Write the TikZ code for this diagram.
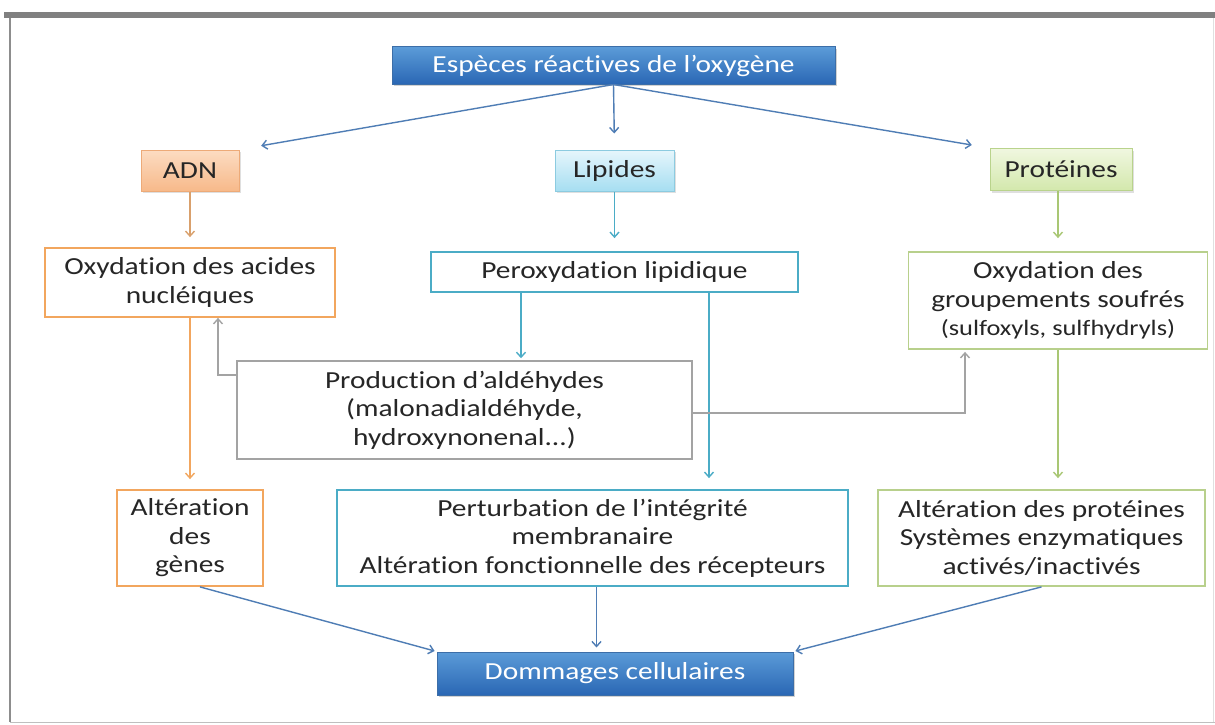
\documentclass[tikz,border=0pt]{standalone}
\usepackage{fontspec}
\setmainfont{Carlito}[FakeStretch=1.2, Ligatures=NoCommon]
\usetikzlibrary{arrows.meta,calc,shadows}

\definecolor{txt}{HTML}{262626}
\definecolor{bluetop}{HTML}{5B9BD8}
\definecolor{bluebot}{HTML}{2A67B4}
\definecolor{blueedge}{HTML}{3C6EA8}
\definecolor{peachtop}{HTML}{FCDCC2}
\definecolor{peachbot}{HTML}{F7B98A}
\definecolor{peachedge}{HTML}{EDAA78}
\definecolor{cyantop}{HTML}{E6F6FC}
\definecolor{cyanbot}{HTML}{A6DEF1}
\definecolor{cyanedge}{HTML}{8CCBE0}
\definecolor{limetop}{HTML}{F0F7E0}
\definecolor{limebot}{HTML}{D3E8AC}
\definecolor{limeedge}{HTML}{B9D38C}
\definecolor{orangeline}{HTML}{F2A65E}
\definecolor{tealline}{HTML}{4BACC6}
\definecolor{greenline}{HTML}{B8D08C}
\definecolor{greenarrow}{HTML}{A9C774}
\definecolor{grayline}{HTML}{A3A3A3}
\definecolor{steel}{HTML}{4F7DB5}
\definecolor{tanline}{HTML}{D9A06C}
\definecolor{frameline}{HTML}{808080}

\begin{document}
\begin{tikzpicture}[x=1pt,y=-1pt,
  box/.style={draw, line width=1.8pt, align=center, inner sep=0pt,
    text=txt, font=\fontsize{24.5}{28.5}\selectfont},
  headbox/.style={box, draw=blueedge, line width=1pt, top color=bluetop,
    bottom color=bluebot, text=white,
    drop shadow={shadow xshift=1.5pt, shadow yshift=-2pt, opacity=0.35}},
  tagbox/.style={box, line width=1pt,
    drop shadow={shadow xshift=1.5pt, shadow yshift=-2pt, opacity=0.25}},
  orbox/.style={box, draw=orangeline, fill=white},
  tealbox/.style={box, draw=tealline, fill=white},
  limebox/.style={box, draw=greenline, fill=white},
  graybox/.style={box, draw=grayline, line width=1.5pt, fill=white},
  arr/.style={line width=1.4pt, -{Straight Barb[length=5pt,width=9pt]}}
]
\useasboundingbox (0,0) rectangle (1215,725);
\fill[white] (0,0) rectangle (1215,725);

% frame of the slide
\fill[frameline] (4,12) rectangle (1215,18);
\draw[frameline!90, line width=2.5pt] (10,18) -- (10,722);
\draw[black!25, line width=1pt] (10,722) -- (1215,722);
\draw[black!12, line width=1pt] (1213,18) -- (1213,722);

% boxes
\node[headbox, minimum width=443, minimum height=37] (ros) at (613.5,65.5)
  {Espèces réactives de l'oxygène};

\node[tagbox, draw=peachedge, top color=peachtop, bottom color=peachbot,
  minimum width=98, minimum height=41] (adn) at (190,170.5) {ADN};
\node[tagbox, draw=cyanedge, top color=cyantop, bottom color=cyanbot,
  minimum width=119, minimum height=41] (lip) at (614.5,170.5) {Lipides};
\node[tagbox, draw=limeedge, top color=limetop, bottom color=limebot,
  minimum width=142, minimum height=42] (prot) at (1061,169.5) {Protéines};

\node[orbox, minimum width=290, minimum height=69] (oxadn) at (190,282.5)
  {Oxydation des acides\\nucléiques};
\node[tealbox, minimum width=367, minimum height=40] (perox) at (614.5,272)
  {Peroxydation lipidique};
\node[limebox, minimum width=299, minimum height=97] (oxprot) at (1058,300.5)
  {Oxydation des\\groupements soufrés\\{\fontsize{22}{26}\selectfont (sulfoxyls, sulfhydryls)}};

\node[graybox, minimum width=455, minimum height=98] (ald) at (464.5,410)
  {Production d'aldéhydes\\(malonadialdéhyde,\\hydroxynonenal...)};

\node[orbox, minimum width=146, minimum height=96] (gene) at (190,538)
  {Altération\\des\\gènes};
\node[tealbox, minimum width=511, minimum height=96] (membr) at (592.5,538)
  {Perturbation de l'intégrité\\membranaire\\Altération fonctionnelle des récepteurs};
\node[limebox, minimum width=327, minimum height=96] (altprot) at (1041.5,538)
  {Altération des protéines\\Systèmes enzymatiques\\activés/inactivés};

\node[headbox, minimum width=356, minimum height=43] (dom) at (615,673.5)
  {Dommages cellulaires};

% connectors from the reactive species
\draw[arr, steel, shorten >=22pt] (ros.south) -- (adn.north east);
\draw[arr, steel, shorten >=16pt] (ros.south) -- (lip.north);
\draw[arr, steel, shorten >=18pt] (ros.south) -- (prot.north west);

% DNA branch
\draw[arr, tanline, shorten >=10pt] (adn.south) -- (oxadn.north);
\draw[arr, orangeline, shorten >=10pt] (oxadn.south) -- (gene.north);

% lipid branch
\draw[arr, tealline, shorten >=13pt] (lip.south) -- (perox.north);
\draw[arr, tealline, shorten >=2pt] ([xshift=-93.5pt]perox.south)
  -- ([xshift=-93.5pt]perox.south |- ald.north);
\draw[arr, tealline, shorten >=11pt] ([xshift=94.5pt]perox.south)
  -- ([xshift=94.5pt]perox.south |- membr.north);

% protein branch
\draw[arr, greenarrow, shorten >=13pt] ([xshift=-3pt]prot.south)
  -- ([xshift=-3pt]prot.south |- oxprot.north);
\draw[arr, greenarrow, shorten >=11pt] (oxprot.south) -- (oxprot.south |- altprot.north);

% aldehydes feeding back
\draw[arr, grayline] ($(ald.west)+(0,-35)$) -| ($(oxadn.south)+(28,0)$);
\draw[arr, grayline, shorten >=2pt] ($(ald.east)+(0,3)$) -| ($(oxprot.south)+(-93,0)$);

% towards cell damage
\draw[arr, steel, shorten >=2pt] ([xshift=10pt]gene.south) -- (dom.north west);
\draw[arr, steel, shorten >=4pt] ([xshift=4pt]membr.south) -- ([xshift=4pt]membr.south |- dom.north);
\draw[arr, steel, shorten >=2pt] (altprot.south) -- (dom.north east);
\end{tikzpicture}
\end{document}
